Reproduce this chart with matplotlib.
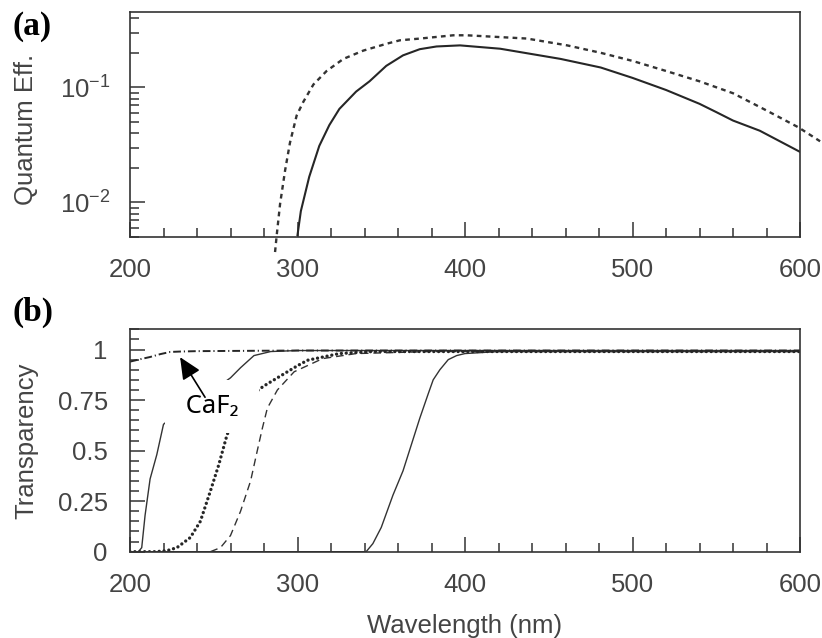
import matplotlib
matplotlib.use("Agg")
import matplotlib.pyplot as plt
from matplotlib.ticker import MultipleLocator, FixedLocator, NullFormatter, FixedFormatter

plt.rcParams['font.family'] = ['Liberation Sans', 'DejaVu Sans']

# ---------------- data: panel (a) quantum efficiency ----------------
qe_wl_solid = [300, 302, 307, 313, 319, 325, 335, 343, 353, 363, 373, 383, 397,
               421, 457, 481, 500, 520, 540, 550, 560, 576, 600]
qe_solid = [0.0052, 0.0084, 0.0167, 0.031, 0.047, 0.065, 0.092, 0.113, 0.154, 0.19,
            0.215, 0.227, 0.232, 0.217, 0.177, 0.149, 0.121, 0.095, 0.072, 0.061,
            0.0515, 0.042, 0.0275]

qe_wl_dash = [286.6, 287.6, 289.6, 292.6, 295.5, 299.5, 303.5, 309.5, 317.4, 327.4,
              339.3, 353.3, 361.2, 373.2, 393, 401, 437, 461, 481, 500, 520, 540,
              560, 580, 599, 612]
qe_dash = [0.0037, 0.0052, 0.0097, 0.019, 0.033, 0.057, 0.075, 0.106, 0.139, 0.177,
           0.209, 0.24, 0.257, 0.266, 0.284, 0.284, 0.266, 0.232, 0.20, 0.17, 0.139,
           0.113, 0.089, 0.063, 0.045, 0.034]

# ---------------- data: panel (b) transparency ----------------
caf2_wl = [200, 206, 212, 218, 224, 230, 240, 260, 300, 400, 500, 600]
caf2_T = [0.94, 0.952, 0.963, 0.977, 0.988, 0.99, 0.992, 0.993, 0.995, 0.995, 0.995, 0.995]

sol1_wl = [205, 207, 209, 212, 216, 220, 230, 240, 250, 260, 266, 274, 284, 300, 600]
sol1_T = [0, 0.02, 0.18, 0.36, 0.48, 0.63, 0.70, 0.75, 0.80, 0.86, 0.91, 0.97, 0.99,
          0.995, 0.995]

dot_wl = [200, 215, 222, 228, 236, 242, 248, 253, 258, 264, 270, 275, 280, 290, 300,
          306, 325, 345, 400, 600]
dot_T = [0, 0, 0.005, 0.02, 0.07, 0.15, 0.30, 0.43, 0.58, 0.68, 0.75, 0.79, 0.82,
         0.87, 0.92, 0.947, 0.98, 0.99, 0.99, 0.99]

dash_wl = [248, 254, 260, 266, 272, 276, 279, 282, 288, 298, 315, 335, 380, 600]
dash_T = [0, 0.02, 0.08, 0.2, 0.35, 0.5, 0.61, 0.71, 0.8, 0.89, 0.955, 0.98, 0.99, 0.99]

sol2_wl = [200, 341, 345, 350, 357, 363, 368, 373, 378, 381, 385, 390, 395, 400, 420, 600]
sol2_T = [0, 0, 0.04, 0.12, 0.28, 0.40, 0.53, 0.66, 0.78, 0.85, 0.9, 0.95, 0.97, 0.98,
          0.99, 0.99]

xticks = [200, 300, 400, 500, 600]
xticklabels = ['200', '300', '400', '500', '600']
tticks = [0, 0.25, 0.5, 0.75, 1]
tticklabels = ['0', '0.25', '0.5', '0.75', '1']

TXT = '#444444'
LINE = '#262626'
FS = 18.5

fig = plt.figure(figsize=(8.22, 6.38), dpi=100)
W, H = 822, 638
def rect(l, t, r, b):
    return [l / W, 1 - b / H, (r - l) / W, (b - t) / H]

ax1 = fig.add_axes(rect(130, 12.3, 800, 237))
ax2 = fig.add_axes(rect(130, 329.3, 800, 551.7))

for ax in (ax1, ax2):
    for s in ax.spines.values():
        s.set_linewidth(1.2)
        s.set_color('#333333')
    ax.set_xlim(200, 600)
    ax.xaxis.set_major_locator(FixedLocator(xticks))
    ax.xaxis.set_major_formatter(FixedFormatter(xticklabels))
    ax.xaxis.set_minor_locator(MultipleLocator(20))
    ax.tick_params(which='both', direction='in', top=False, right=False,
                   colors='#333333', labelcolor=TXT, labelsize=FS, width=1.1)
    ax.tick_params(which='major', length=11)
    ax.tick_params(which='minor', length=6.5)
    ax.tick_params(axis='x', which='both', pad=15)

# ---- panel (a)
ax1.set_yscale('log')
ax1.set_ylim(0.005, 0.45)
ax1.yaxis.set_minor_formatter(NullFormatter())
ax1.tick_params(axis='y', which='both', pad=14)
ax1.plot(qe_wl_solid, qe_solid, color=LINE, lw=1.5)
ax1.plot(qe_wl_dash, qe_dash, color='#333333', lw=1.7, linestyle=(0, (2.0, 1.8)),
         clip_on=False)
ax1.set_ylabel('Quantum Eff.', fontsize=FS, color=TXT)
ax1.yaxis.set_label_coords(-0.137, 0.48)

# ---- panel (b)
ax2.set_ylim(0, 1.1)
ax2.yaxis.set_major_locator(FixedLocator(tticks))
ax2.yaxis.set_major_formatter(FixedFormatter(tticklabels))
ax2.yaxis.set_minor_locator(MultipleLocator(0.05))
ax2.tick_params(axis='y', which='both', pad=16)

ax2.plot(sol2_wl, sol2_T, color='#333333', lw=1.0)
ax2.plot(sol1_wl, sol1_T, color='#333333', lw=1.0)
ax2.plot(dash_wl, dash_T, color='#333333', lw=1.0, linestyle=(0, (5.5, 3.5)))
ax2.plot(dot_wl, dot_T, color=LINE, lw=2.4, linestyle=(0, (0.01, 1.45)),
         dash_capstyle='round')
ax2.plot(caf2_wl, caf2_T, color=LINE, lw=1.4, linestyle=(0, (4.0, 1.5, 0.6, 1.5)))

ax2.set_ylabel('Transparency', fontsize=FS, color=TXT)
ax2.yaxis.set_label_coords(-0.137, 0.5)
ax2.set_xlabel('Wavelength (nm)', fontsize=FS, color=TXT)
ax2.xaxis.set_label_coords(0.5, -0.28)

# CaF2 label with white box and arrow
ax2.text(249, 0.718, ' CaF\u2082 ', fontsize=18.5, family=['Noto Sans', 'DejaVu Sans'],
         color='black', ha='center', va='center', zorder=5,
         bbox=dict(boxstyle='square,pad=0.55', fc='white', ec='none'))
ax2.annotate('', xy=(229.9, 0.962), xytext=(244.8, 0.764), zorder=6,
             arrowprops=dict(arrowstyle='-|>,head_length=0.7,head_width=0.32',
                             mutation_scale=19, color='black', lw=1.2,
                             shrinkA=0, shrinkB=0))

# panel letters
fig.text(12 / W, 1 - 26 / H, '(a)', fontsize=24, fontweight='bold',
         family='Liberation Serif', va='center', ha='left')
fig.text(12 / W, 1 - 312 / H, '(b)', fontsize=24, fontweight='bold',
         family='Liberation Serif', va='center', ha='left')

fig.savefig('out.png', dpi=100)
